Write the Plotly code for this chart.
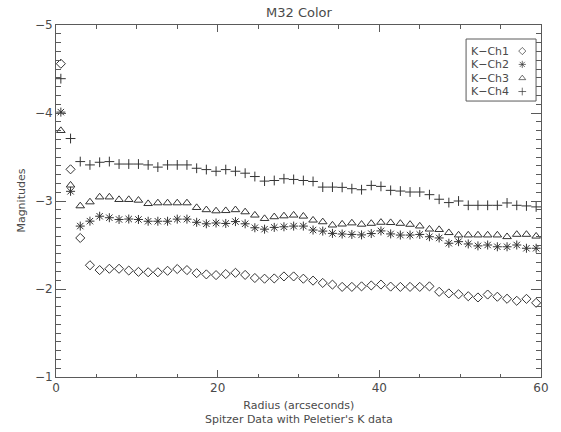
import plotly.graph_objects as go

# Radial sample points (arcseconds)
radius = [0.6, 1.8, 3.0, 4.2, 5.4, 6.6, 7.8, 9.0, 10.2, 11.4,
          12.6, 13.8, 15.0, 16.2, 17.4, 18.6, 19.8, 21.0, 22.2, 23.4,
          24.6, 25.8, 27.0, 28.2, 29.4, 30.6, 31.8, 33.0, 34.2, 35.4,
          36.6, 37.8, 39.0, 40.2, 41.4, 42.6, 43.8, 45.0, 46.2, 47.4,
          48.6, 49.8, 51.0, 52.2, 53.4, 54.6, 55.8, 57.0, 58.2, 59.4]

# K minus IRAC channel colours (magnitudes)
k_ch1 = [-4.56, -3.36, -2.58, -2.27, -2.215, -2.23, -2.23, -2.21, -2.195, -2.19,
         -2.19, -2.207, -2.227, -2.215, -2.18, -2.166, -2.158, -2.17, -2.184, -2.16,
         -2.125, -2.117, -2.12, -2.143, -2.143, -2.117, -2.095, -2.069, -2.05, -2.024,
         -2.024, -2.03, -2.04, -2.05, -2.027, -2.024, -2.024, -2.024, -2.03, -1.968,
         -1.95, -1.94, -1.918, -1.904, -1.937, -1.912, -1.889, -1.866, -1.888, -1.843]

k_ch2 = [-4.01, -3.11, -2.715, -2.771, -2.827, -2.81, -2.79, -2.795, -2.79, -2.77,
         -2.77, -2.77, -2.794, -2.794, -2.758, -2.741, -2.75, -2.745, -2.766, -2.741,
         -2.696, -2.68, -2.70, -2.707, -2.715, -2.715, -2.67, -2.658, -2.632, -2.625,
         -2.62, -2.615, -2.63, -2.66, -2.626, -2.613, -2.613, -2.62, -2.594, -2.58,
         -2.52, -2.538, -2.512, -2.49, -2.50, -2.48, -2.48, -2.50, -2.463, -2.463]

k_ch3 = [-3.80, -3.18, -2.944, -2.989, -3.045, -3.045, -3.016, -3.016, -3.008, -2.97,
         -2.978, -2.978, -2.978, -2.978, -2.925, -2.90, -2.887, -2.89, -2.90, -2.876,
         -2.839, -2.80, -2.82, -2.83, -2.839, -2.827, -2.782, -2.763, -2.726, -2.737,
         -2.75, -2.735, -2.745, -2.757, -2.754, -2.745, -2.734, -2.715, -2.68, -2.675,
         -2.64, -2.613, -2.613, -2.613, -2.613, -2.613, -2.594, -2.62, -2.62, -2.60]

k_ch4 = [-4.39, -3.71, -3.448, -3.41, -3.44, -3.448, -3.42, -3.42, -3.42, -3.41,
         -3.385, -3.41, -3.41, -3.41, -3.372, -3.357, -3.338, -3.357, -3.338, -3.316,
         -3.278, -3.226, -3.233, -3.253, -3.245, -3.233, -3.222, -3.158, -3.158, -3.155,
         -3.14, -3.128, -3.177, -3.166, -3.121, -3.113, -3.102, -3.102, -3.072, -3.02,
         -2.982, -3.0, -2.951, -2.951, -2.951, -2.951, -2.978, -2.951, -2.944, -2.933]

series_names = ["K\u2212Ch1", "K\u2212Ch2", "K\u2212Ch3", "K\u2212Ch4"]
series_values = [k_ch1, k_ch2, k_ch3, k_ch4]
symbols = ["diamond-open", "asterisk-open", "triangle-up-open", "cross-thin-open"]
sizes = [7, 7.5, 7.5, 7]

INK = "#333333"
AXIS = "#5a5a5a"
TEXT = "#4a4a4a"
FONT = "DejaVu Sans"

fig = go.Figure()

for name, vals, sym, sz in zip(series_names, series_values, symbols, sizes):
    fig.add_trace(go.Scatter(
        x=radius, y=vals, mode="markers", name=name, showlegend=False,
        marker=dict(symbol=sym, size=sz, color=INK,
                    line=dict(width=1, color=INK)),
    ))

# Boxed key in the upper right, symbol drawn after the label
key_rows = [0.926, 0.888, 0.849, 0.811]
fig.add_trace(go.Scatter(
    x=[0.9614] * 4, y=key_rows, xaxis="x2", yaxis="y2",
    mode="markers", showlegend=False, hoverinfo="skip",
    marker=dict(symbol=symbols, size=[5.5, 6, 6, 5.5], color=INK,
                line=dict(width=1, color=INK)),
))

annotations = []
for name, yy in zip(series_names, key_rows):
    annotations.append(dict(
        x=0.852, y=yy, xref="paper", yref="paper", text=name,
        showarrow=False, xanchor="left", yanchor="middle",
        font=dict(family=FONT, size=11, color=TEXT),
    ))

annotations.append(dict(
    x=0.5, y=-0.058, xref="paper", yref="paper",
    text="Radius (arcseconds)<br>Spitzer Data with Peletier's K data",
    showarrow=False, xanchor="center", yanchor="top",
    font=dict(family=FONT, size=11, color=TEXT),
))
annotations.append(dict(
    x=-0.073, y=0.5, xref="paper", yref="paper", text="Magnitudes",
    textangle=-90, showarrow=False, xanchor="center", yanchor="middle",
    font=dict(family=FONT, size=11, color=TEXT),
))
annotations.append(dict(
    x=0.5, y=1.0, xref="paper", yref="paper", text="M32 Color",
    showarrow=False, xanchor="center", yanchor="bottom", yshift=3,
    font=dict(family=FONT, size=13, color=TEXT),
))

fig.update_layout(
    width=561, height=432,
    margin=dict(l=56, r=13, t=25, b=55),
    paper_bgcolor="white", plot_bgcolor="white",
    showlegend=False,
    font=dict(family=FONT, size=12, color=TEXT),
    annotations=annotations,
    shapes=[dict(type="rect", xref="paper", yref="paper",
                 x0=0.8455, x1=0.9898, y0=0.784, y1=0.9602,
                 line=dict(color=AXIS, width=1), fillcolor="rgba(0,0,0,0)")],
    xaxis=dict(
        range=[0, 60], tickmode="linear", tick0=0, dtick=20,
        showline=True, linecolor=AXIS, linewidth=1, mirror="allticks",
        ticks="inside", ticklen=7, tickcolor=AXIS, tickwidth=1,
        showgrid=False, zeroline=False,
        minor=dict(tick0=0, dtick=5, ticks="inside", ticklen=3.5,
                   tickcolor=AXIS, showgrid=False),
        tickfont=dict(family=FONT, size=12, color=TEXT),
    ),
    yaxis=dict(
        range=[-1, -5], tickmode="linear", tick0=-5, dtick=1,
        showline=True, linecolor=AXIS, linewidth=1, mirror="allticks",
        ticks="inside", ticklen=10, tickcolor=AXIS, tickwidth=1,
        showgrid=False, zeroline=False,
        minor=dict(tick0=-5, dtick=0.1, ticks="inside", ticklen=5,
                   tickcolor=AXIS, showgrid=False),
        tickfont=dict(family=FONT, size=12, color=TEXT),
    ),
    xaxis2=dict(range=[0, 1], overlaying="x", visible=False, fixedrange=True),
    yaxis2=dict(range=[0, 1], overlaying="y", visible=False, fixedrange=True),
)

fig.write_html("out.html")
